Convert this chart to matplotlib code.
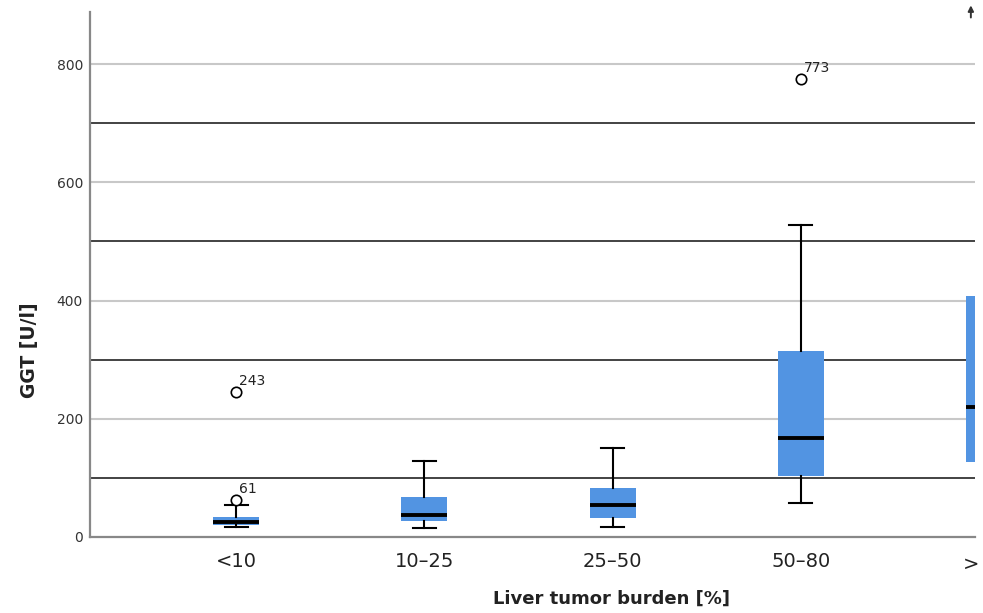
import matplotlib
matplotlib.use("Agg")
import matplotlib.pyplot as plt
import matplotlib.transforms as mtransforms

# %% data
categories = ["<10", "10\u201325", "25\u201350", "50\u201380", ">"]
q1 = [20, 27, 32, 103, 127]
med = [26, 38, 54, 168, 220]
q3 = [33, 68, 83, 314, 407]
whislo = [17, 16, 17, 58, 60]
whishi = [54, 129, 151, 528, 700]
# outliers: (category index, value, case label)
outliers = [(0, 245, "243"), (0, 62, "61"), (3, 775, "773")]
ref_lines = [100, 300, 500, 700]
yticks = [0, 200, 400, 600, 800]

BOX_COLOR = "#5294e2"
BOX_W = 0.245

# %% build stats for bxp
stats = []
for i, cat in enumerate(categories):
    stats.append({
        "label": cat,
        "q1": q1[i], "med": med[i], "q3": q3[i],
        "whislo": whislo[i], "whishi": whishi[i],
        "fliers": [],
    })

fig = plt.figure(figsize=(9.83, 6.13), dpi=100)
ax = fig.add_axes([90 / 983, 1 - 537 / 613, 885 / 983, 525 / 613])

# gridlines + reference lines
for y in yticks[1:]:
    ax.axhline(y, color="#c8c8c8", lw=1.5, zorder=1)
for y in ref_lines:
    ax.axhline(y, color="#222222", lw=1.2, zorder=1)

ax.bxp(
    stats, positions=range(len(categories)), widths=BOX_W,
    patch_artist=True, showfliers=False,
    boxprops=dict(facecolor=BOX_COLOR, edgecolor=BOX_COLOR, linewidth=0),
    medianprops=dict(color="black", linewidth=2.8),
    whiskerprops=dict(color="black", linewidth=1.5),
    capprops=dict(color="black", linewidth=1.5),
    capwidths=BOX_W / 2,
    zorder=3,
)

for ci, val, lab in outliers:
    ax.plot(ci, val, marker="o", ms=7.5, mfc="white", mec="black", mew=1.2,
            ls="none", zorder=4)
    ax.annotate(lab, (ci, val), xytext=(2, 5), textcoords="offset points",
                fontsize=10, color="#222222", zorder=5)

# off-scale outlier arrow for the last category
ax.annotate("", xy=(3.904, 904), xytext=(3.904, 874),
            arrowprops=dict(arrowstyle="-|>", color="#333333", lw=1.4,
                            mutation_scale=8),
            annotation_clip=False)

ax.set_xlim(-0.777, 3.926)
ax.set_ylim(0, 888)
ax.set_yticks(yticks)
ax.set_xticks(range(4))
ax.set_xticklabels(categories[:4])
# last category label, only its first sign fits in the picture
trans = mtransforms.blended_transform_factory(ax.transData, ax.transAxes)
ax.text(3.905, -0.035, categories[4], transform=trans, ha="center", va="top",
        fontsize=14, color="#222222", clip_on=False)

ax.tick_params(axis="y", length=0, pad=5, labelsize=10, labelcolor="#333333")
ax.tick_params(axis="x", length=0, pad=11, labelsize=14, labelcolor="#222222")

for s in ["top", "right"]:
    ax.spines[s].set_visible(False)
for s in ["left", "bottom"]:
    ax.spines[s].set_color("#888888")
    ax.spines[s].set_linewidth(1.6)
    ax.spines[s].set_zorder(2)

ax.set_ylabel("GGT [U/l]", fontsize=13.5, fontweight="bold", color="#222222")
ax.yaxis.set_label_coords(-0.058, 0.356)
ax.set_xlabel("Liver tumor burden [%]", fontsize=13, fontweight="bold",
              color="#222222")
ax.xaxis.set_label_coords(0.589, -0.10)

fig.savefig("out.png", dpi=100, facecolor="white")
